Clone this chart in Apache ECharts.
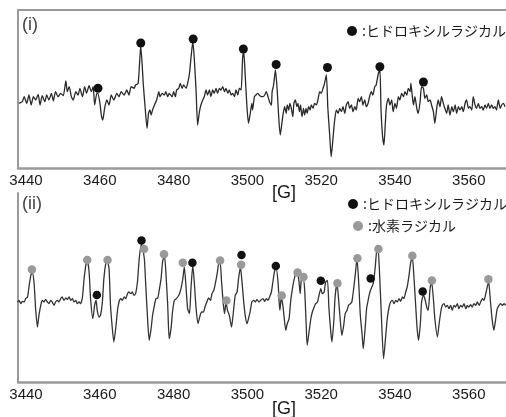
<!DOCTYPE html>
<html><head><meta charset="utf-8">
<script src="https://cdn.jsdelivr.net/npm/echarts@6/dist/echarts.min.js"></script>
<style>html,body{margin:0;padding:0;background:#fff}#c{width:506px;height:417px}</style>
</head><body><div id="c"></div>
<script>
// x tick labels [G]
const tickLabels = [3440, 3460, 3480, 3500, 3520, 3540, 3560];
const panelLabels = ['(i)', '(ii)'];
const unitLabel = '[G]';
const ohName = 'ヒドロキシルラジカル';
const hName = '水素ラジカル';

// (i) spectrum: field [G] and intensity (a.u.)
const topField = [
3438.1,3439.0,3439.5,3440.2,3440.8,3441.4,3442.0,3442.6,3443.3,3443.8,
3444.4,3445.1,3445.6,3446.2,3446.9,3447.4,3448.0,3448.7,3449.4,3450.1,
3450.8,3451.2,3451.7,3452.3,3452.8,3453.5,3454.1,3454.6,3455.3,3455.9,
3456.4,3457.1,3457.7,3458.2,3458.6,3459.2,3459.5,3460.1,3460.4,3460.8,
3461.3,3461.9,3462.5,3463.1,3463.8,3464.6,3465.2,3465.8,3466.6,3467.3,
3467.9,3468.5,3469.3,3469.7,3470.4,3471.1,3471.8,3472.3,3472.8,3473.2,
3473.6,3473.9,3474.3,3474.8,3475.4,3476.0,3476.3,3476.9,3477.5,3477.9,
3478.4,3478.8,3479.6,3480.0,3480.5,3480.8,3481.4,3481.8,3482.3,3482.7,
3483.4,3483.8,3484.3,3484.7,3485.2,3485.6,3486.1,3486.5,3487.0,3487.4,
3487.9,3488.3,3488.8,3489.2,3489.7,3490.1,3490.6,3491.0,3491.5,3491.9,
3492.4,3492.8,3493.3,3493.8,3494.2,3494.7,3495.1,3495.6,3496.0,3496.5,
3496.9,3497.4,3497.8,3498.3,3498.7,3499.0,3499.4,3499.9,3500.3,3500.7,
3501.2,3501.4,3501.9,3502.3,3502.8,3503.2,3503.8,3504.2,3504.7,3505.1,
3505.6,3506.0,3506.5,3506.7,3507.1,3507.6,3508.1,3508.5,3508.9,3509.4,
3509.7,3510.1,3510.5,3510.8,3511.2,3511.5,3511.9,3512.3,3512.6,3513.0,
3513.4,3513.7,3514.1,3514.4,3514.8,3515.2,3515.5,3515.9,3516.2,3516.6,
3517.0,3517.3,3517.8,3518.2,3518.7,3519.1,3519.6,3520.0,3520.5,3520.9,
3521.4,3521.8,3522.3,3522.7,3523.2,3523.6,3524.1,3524.6,3525.0,3525.5,
3525.9,3526.4,3526.8,3527.3,3527.7,3528.2,3528.6,3529.1,3529.5,3530.0,
3530.4,3530.9,3531.3,3531.8,3532.2,3532.7,3533.1,3533.6,3534.0,3534.5,
3534.9,3535.4,3535.9,3536.2,3536.6,3537.0,3537.4,3537.7,3538.2,3538.6,
3539.1,3539.5,3540.0,3540.4,3540.9,3541.3,3541.8,3542.3,3542.7,3543.2,
3543.6,3544.1,3544.3,3544.7,3545.0,3545.4,3545.9,3546.3,3546.8,3547.2,
3547.7,3548.1,3548.6,3549.0,3549.5,3549.9,3550.4,3550.8,3551.3,3551.7,
3552.2,3552.6,3553.1,3553.5,3554.0,3554.4,3554.9,3555.4,3555.8,3556.3,
3556.7,3557.2,3557.6,3558.1,3558.5,3559.0,3559.4,3559.9,3560.3,3560.8,
3561.2,3561.7,3562.1,3562.6,3563.0,3563.5,3563.9,3564.4,3564.8,3565.3,
3565.7,3566.2,3566.6,3567.1,3567.5,3568.0,3568.5,3568.9,3569.4,3569.8
];
const topInt = [
-3.3,-1.7,3.3,-3.3,5,-5,3.3,0,5.7,-5,
4.3,-1.7,5,0,6.7,-1,8.3,3.3,6.7,4.3,
19,8.3,13.3,3.3,0,8.3,5,11.7,3.3,13.3,
6.7,14.3,8.3,13.3,-5,6.7,6.7,-5,-15,-20,
-8.3,0,-5,5,0,6.7,3.3,8.3,5,10,
5,13.3,11.7,15,16.7,54,15,-8.3,-28.3,-13.3,
-10,-15,-10,-5,0,8.3,3.3,6.7,5,8.3,
3.3,6.7,3.3,8.3,3.3,10,11.7,16.7,11.7,15,
11.7,16.7,26.7,41.7,58.3,41.7,8.3,-25,-11.7,-5,
0,3.3,10,5,10,3.3,10,6.7,11.7,6.7,
11.7,10,13.3,8.3,11.7,6.7,10,5,6.7,3.3,
10,5,11.7,10,41.7,48.3,25,-8.3,-23.3,-15,
-3.3,-10,3.3,5,6.7,5,3.3,3.3,5,8.3,
3.3,-1.7,-5,8.3,15,30,8.3,-18.3,-35,-21.7,
-13.3,-6.7,-13.3,-5,-10,-3.3,-8.3,-16.7,-3.3,0,
-6.7,-3.3,-11.7,-5,-16.7,-8.3,-15,-8.3,-13.3,-6.7,
-10,-5,-8.3,-3.3,-5,0,8.3,6.7,11.7,16.7,
25,-8.3,-35,-56.7,-38.3,-21.7,-10,-13.3,-8.3,-11.7,
-6.7,-13.3,-5,-1.7,-8.3,-5,-11.7,-6.7,-10,1.7,
-1.7,3.3,-5,0,-6.7,-3.3,3.3,8.3,5,13.3,
15,25,31,-8.3,-35,-45,-21.7,-5,1.7,-5,
0,-11.7,-3.3,-8.3,3.3,0,6.7,3.3,8.3,5,
11.7,8.3,16.7,3.3,-5,3.3,-8.3,-13.3,-1.7,13.3,
11.7,1.7,5,-1.7,0,-5,-11.7,-23.3,-8.3,0,
-6.7,3.3,-3.3,-8.3,-13.3,-5,-15,-6.7,-11.7,-5,
-13.3,-6.7,-10,-6.7,-11.7,-3.3,0,-8.3,-6.7,-10,
3.3,-5,-8.3,-3.3,-8.3,-6.7,-10,-5,-8.3,-3.3,
-8.3,-5,-8.3,-6.7,-10,0,-8.3,-5,-3.3,-6.7
];
// (i) hydroxyl radical markers
const topOhField = [3459.5, 3471.1, 3485.3, 3498.9, 3507.8, 3521.7, 3535.9, 3547.7];
const topOhInt   = [11.7, 57, 61, 51, 35.5, 32.5, 33.3, 18];

// (ii) spectrum
const botField = [
3437.7,3438.1,3438.6,3439.0,3439.5,3439.9,3440.4,3440.8,3441.3,3441.7,
3442.2,3442.6,3443.1,3443.5,3444.0,3444.4,3444.9,3445.3,3445.8,3446.2,
3446.7,3447.1,3447.6,3448.0,3448.5,3448.9,3449.4,3449.8,3450.3,3450.8,
3451.2,3451.7,3452.1,3452.6,3453.0,3453.5,3453.9,3454.4,3454.8,3455.3,
3455.7,3456.2,3456.6,3457.1,3457.5,3458.1,3458.6,3459.0,3459.3,3459.8,
3460.2,3460.7,3461.1,3461.6,3462.0,3462.5,3462.9,3463.4,3463.8,3464.3,
3464.8,3465.2,3465.7,3466.1,3466.6,3467.0,3467.5,3467.9,3468.4,3468.8,
3469.3,3469.7,3470.2,3470.7,3471.3,3471.7,3472.1,3472.5,3473.0,3473.4,
3473.9,3474.3,3474.8,3475.2,3475.7,3476.1,3476.6,3477.0,3477.5,3477.9,
3478.4,3478.8,3479.3,3479.7,3480.2,3480.7,3481.1,3481.6,3482.0,3482.5,
3482.9,3483.4,3483.8,3484.3,3484.7,3485.2,3485.6,3486.1,3486.6,3487.2,
3487.6,3488.1,3488.5,3489.0,3489.5,3490.0,3490.4,3490.9,3491.3,3491.8,
3492.2,3492.6,3493.0,3493.5,3493.8,3494.2,3494.6,3495.1,3495.7,3496.2,
3496.7,3497.2,3497.6,3498.1,3498.5,3499.0,3499.4,3499.9,3500.3,3500.8,
3501.2,3501.7,3502.2,3502.6,3503.1,3503.6,3504.2,3504.7,3505.1,3505.6,
3506.0,3506.5,3506.9,3507.4,3507.8,3508.3,3508.6,3508.8,3509.2,3509.6,
3509.9,3510.4,3510.8,3511.3,3511.7,3512.2,3512.6,3513.1,3513.5,3514.0,
3514.3,3514.6,3515.1,3515.5,3515.9,3516.2,3516.7,3517.2,3517.6,3518.1,
3518.5,3519.0,3519.4,3519.9,3520.3,3520.8,3521.2,3521.7,3522.1,3522.6,
3522.9,3523.4,3523.8,3524.3,3524.7,3525.2,3525.6,3526.1,3526.5,3527.0,
3527.4,3527.9,3528.3,3528.8,3529.3,3529.7,3530.2,3530.6,3531.1,3531.4,
3531.9,3532.3,3532.8,3533.2,3533.7,3534.1,3534.6,3535.0,3535.4,3535.8,
3536.3,3536.9,3537.5,3537.9,3538.4,3538.8,3539.3,3539.7,3540.2,3540.6,
3541.1,3541.5,3542.0,3542.4,3542.9,3543.3,3543.8,3544.2,3544.7,3545.1,
3545.6,3546.0,3546.4,3546.9,3547.2,3547.7,3548.1,3548.6,3549.0,3549.5,
3549.9,3550.4,3550.8,3551.5,3551.9,3552.4,3552.8,3553.3,3553.7,3554.2,
3554.6,3555.1,3555.5,3556.0,3556.4,3556.9,3557.3,3557.8,3558.2,3558.7,
3559.2,3559.6,3560.0,3560.5,3560.9,3561.4,3561.9,3562.3,3562.8,3563.2,
3563.7,3564.1,3564.6,3565.0,3565.4,3565.8,3566.3,3566.8,3567.3,3567.7,
3568.2,3568.6,3569.1,3569.6,3570.0
];
const botInt = [
-2,-0.3,-3.7,-1.3,-2,1.3,3,13,24.7,28,
16.3,-8.7,-27,-15.3,-5.3,-0.3,-2,0.7,-2,-3.7,
-0.3,-2,-5.3,-2,-0.3,-2,1.3,3,-0.3,2,
0.7,3,-0.3,1.3,-2,-0.3,-3.7,-2,-3.7,3,
19.7,34.7,39.7,28,1.3,-18.7,-5.3,-0.3,-10.3,-17,
-15.3,-2,21.3,36.3,39.7,31.3,-5.3,-28.7,-42,-28.7,
-10.3,-2,1.3,-0.3,3,1.3,6.3,8,6.3,8,
4.7,6.3,18,42,56,50,40,11.3,-22,-40.3,
-28.7,-15.3,-5.3,1.3,2,9.7,21.3,38,44.7,28,
-5.3,-38.7,-28.7,-12,-0.3,1.3,3,6.3,11.3,21.3,
33,11.3,-8.7,-13.7,11.3,34.7,18,-8.7,-23.7,-15.3,
-12,-12,-7,-2,2,-0.3,6.3,9.7,16.3,26.3,
36.3,38.7,18,-5.3,-13.7,-2,-10.3,-15.3,-27,-12,
4.7,8,21.3,33,19.7,-2,-15.3,-23.7,-18.7,-10.3,
-2,-0.3,-2,0.7,-2,-0.3,1.3,-1.3,1.3,-0.3,
3,8,18,29.7,31.3,18,-2,-10.3,3,-5.3,
-15.3,-30.3,-23.7,-18.7,-2,11.3,19.7,26.3,28,18,
6.3,19.7,21.3,11.3,-22,-45.3,-32,-18.7,-12,-7,
-3.7,-2,4.7,11.3,6.3,8,18,19.7,-8.7,-32,
-42,-22,4.7,16.3,1.3,-22,-35.3,-25.3,-13.7,-10.3,
-5.3,-3.7,-2,11.3,28,41.3,14.7,-15.3,-35.3,-48.7,
-28.7,-8.7,1.3,8,13,16.3,31.3,48,51.3,28,
-15.3,-58.7,-35.3,-18.7,-7,-2,-0.3,-3.7,-0.3,-2,
1.3,-1.3,3,1.3,8,13,24.7,36.3,43,24.7,
-5.3,-28.7,-40.3,-22,-2,4.7,1.3,-7,-10.3,11.3,
18.7,1.3,-18.7,-37,-25.3,-12,-5.3,-3.7,-7,-5.3,
-8.7,-5.3,-10.3,-5.3,-7,-3.7,-8.7,-5.3,-7,-3.7,
-8.7,-5.3,-7,-4.7,-7,-3.7,-5.3,-2,-5.3,-2,
1.3,-0.3,6.3,13,18,1.3,-18.7,-30.3,-18.7,-8.7,
-5.3,-3.7,-5.3,-3.7,-5.3
];
// (ii) hydroxyl radical markers
const botOhField = [3459.2, 3471.3, 3485.1, 3498.4, 3507.7, 3519.9, 3533.4, 3547.5];
const botOhInt   = [5, 59.5, 37.2, 45, 34, 19.2, 21.5, 8.5];
// (ii) hydrogen radical markers
const botHField = [3441.6, 3456.6, 3462.1, 3472.0, 3477.4, 3482.5, 3492.6, 3494.3, 3498.3, 3509.3, 3513.6, 3515.2, 3524.4, 3529.8, 3535.5, 3544.7, 3550.0, 3565.3];
const botHInt   = [30.5, 40, 40, 51, 45.7, 37.2, 39.5, -0.5, 35.2, 4.5, 27.5, 23, 16.8, 41.8, 51, 44.3, 19.5, 20.7];

const zip = (a, b) => a.map((v, i) => [v, b[i]]);

const FMIN = 3437.83, FMAX = 3570.08;
const AX = '#9a9a9a';
const LATIN = 'Liberation Sans, Arial, sans-serif';
const CJK = 'Noto Sans CJK JP, sans-serif';

function xAx(gi, pos, labels) {
  return {
    type: 'value', gridIndex: gi, position: pos, min: FMIN, max: FMAX,
    axisLine: { show: true, onZero: false, lineStyle: { color: AX, width: pos === 'top' ? 2 : 2.5 } },
    axisTick: { show: false }, splitLine: { show: false },
    axisLabel: labels ? { customValues: tickLabels, formatter: v => String(v), fontSize: 15, color: '#1a1a1a', margin: 5, fontFamily: LATIN } : { show: false }
  };
}
function yAx(gi, mn, mx) {
  return {
    type: 'value', gridIndex: gi, min: mn, max: mx,
    axisLine: { show: true, onZero: false, lineStyle: { color: AX, width: 2 } },
    axisTick: { show: false }, splitLine: { show: false }, axisLabel: { show: false }
  };
}
const legendBase = {
  icon: 'circle', itemWidth: 10, itemHeight: 10, itemGap: 0, padding: 0,
  selectedMode: false,
  formatter: n => ':' + n,
  textStyle: { fontSize: 14, color: '#1a1a1a', fontFamily: CJK }
};

const chart = echarts.init(document.getElementById('c'));
chart.setOption({
  animation: false,
  backgroundColor: '#fff',
  grid: [
    { left: 18, top: 10, width: 488, height: 158 },
    { left: 18, top: 193, width: 488, height: 189 }
  ],
  xAxis: [xAx(0, 'bottom', true), xAx(1, 'bottom', true), xAx(0, 'top', false)],
  yAxis: [yAx(0, -68, 90), yAx(1, -82, 107)],
  legend: [
    Object.assign({}, legendBase, { data: [ohName], left: 347, top: 24 }),
    Object.assign({}, legendBase, { data: [ohName], left: 348, top: 197 }),
    Object.assign({}, legendBase, { data: [hName], left: 353, top: 219 })
  ],
  graphic: [
    { type: 'text', left: 22, top: 16, style: { text: panelLabels[0], font: '18px ' + LATIN, fill: '#444' } },
    { type: 'text', left: 22, top: 195, style: { text: panelLabels[1], font: '18px ' + LATIN, fill: '#444' } },
    { type: 'text', left: 272, top: 184, style: { text: unitLabel, font: '18px ' + LATIN, fill: '#1a1a1a' } },
    { type: 'text', left: 272, top: 400, style: { text: unitLabel, font: '18px ' + LATIN, fill: '#1a1a1a' } }
  ],
  series: [
    { name: 'spectrum (i)', type: 'line', xAxisIndex: 0, yAxisIndex: 0, data: zip(topField, topInt),
      symbol: 'none', smooth: 0.2, lineStyle: { color: '#2a2a2a', width: 1.3 } },
    { name: 'spectrum (ii)', type: 'line', xAxisIndex: 1, yAxisIndex: 1, data: zip(botField, botInt),
      symbol: 'none', smooth: 0.2, lineStyle: { color: '#333', width: 1.3 } },
    { name: ohName, type: 'scatter', xAxisIndex: 0, yAxisIndex: 0, data: zip(topOhField, topOhInt),
      symbol: 'circle', symbolSize: 9, itemStyle: { color: '#111', opacity: 1 }, z: 5 },
    { name: hName, type: 'scatter', xAxisIndex: 1, yAxisIndex: 1, data: zip(botHField, botHInt),
      symbol: 'circle', symbolSize: 8.5, itemStyle: { color: '#999', opacity: 1 }, z: 5 },
    { name: ohName, type: 'scatter', xAxisIndex: 1, yAxisIndex: 1, data: zip(botOhField, botOhInt),
      symbol: 'circle', symbolSize: 8.5, itemStyle: { color: '#111', opacity: 1 }, z: 6 }
  ]
});
</script>
</body></html>
